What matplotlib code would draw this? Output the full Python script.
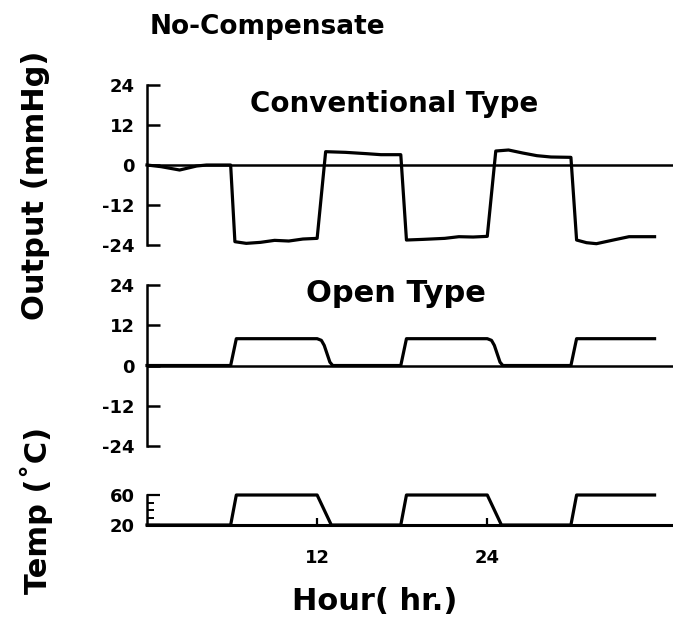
import matplotlib.pyplot as plt

# values (hours, mmHg / degC)
conv_hours = [0, 1, 2.3, 3.5, 4.2, 5.9, 6.2, 7, 8, 9, 10, 11, 12.0,
              12.6, 14, 15.5, 16.5, 17.9, 18.3, 19.5, 21, 22, 23, 24.0,
              24.6, 25.5, 26.5, 27.5, 28.5, 29.9, 30.3, 31, 31.7, 33, 34, 35.8]
conv_output = [0, -0.5, -1.5, -0.3, 0, 0, -23, -23.5, -23.2, -22.6, -22.8, -22.2, -22,
               4, 3.8, 3.4, 3.1, 3.1, -22.5, -22.3, -22, -21.5, -21.6, -21.4,
               4.2, 4.5, 3.6, 2.8, 2.4, 2.3, -22.5, -23.3, -23.6, -22.4, -21.5, -21.5]

open_hours = [0, 5.9, 6.3, 12.0, 12.3, 12.5, 12.7, 12.9, 13.1,
              17.9, 18.3, 24.0, 24.3, 24.5, 24.7, 24.9, 25.1, 29.9, 30.3, 35.8]
open_output = [0, 0, 8, 8, 7.5, 6, 3.5, 1, 0,
               0, 8, 8, 7.5, 6, 3.5, 1, 0, 0, 8, 8]

temp_hours = [0, 5.9, 6.3, 12.0, 13.0, 17.9, 18.3, 24.0, 25.0, 29.9, 30.3, 35.8]
temp_values = [20, 20, 60, 60, 20, 20, 60, 60, 20, 20, 60, 60]

out_ticks = [-24, -12, 0, 12, 24]
temp_ticks = [20, 60]
hour_ticks = [12, 24]

plt.rcParams['font.family'] = 'DejaVu Sans'
plt.rcParams['font.weight'] = 'bold'

W, H = 673, 620
fig = plt.figure(figsize=(W / 100, H / 100), dpi=100)
left = 147 / W

ax1 = fig.add_axes([left, 0.6048, 1 - left, 0.2581])
ax2 = fig.add_axes([left, 0.2806, 1 - left, 0.2597])
ax3 = fig.add_axes([left, 0.1532, 1 - left, 0.0484])

for ax in [ax1, ax2]:
    ax.set_xlim(0, 37.1)
    ax.set_ylim(-24, 24)
    ax.axhline(0, color='black', lw=1.8)
    for s in ['top', 'right', 'bottom']:
        ax.spines[s].set_visible(False)
    ax.spines['left'].set_linewidth(1.8)
    ax.set_yticks(out_ticks)
    ax.set_yticklabels([str(t) for t in out_ticks], fontsize=13, fontweight='bold')
    ax.tick_params(axis='y', direction='in', length=9, width=1.8, pad=9)
    ax.set_xticks([])

ax1.plot(conv_hours, conv_output, color='black', lw=2.3, clip_on=False)
ax2.plot(open_hours, open_output, color='black', lw=2.3, clip_on=False)

# panel captions
fig.text(394 / W, 1 - 112 / H, 'Conventional Type', ha='center', va='baseline',
         fontsize=20, fontweight='bold')
fig.text(396 / W, 1 - 302 / H, 'Open Type', ha='center', va='baseline',
         fontsize=22, fontweight='bold')

# temperature panel
ax3.plot(temp_hours, temp_values, color='black', lw=2.3, clip_on=False)
ax3.set_xlim(0, 37.1)
ax3.set_ylim(20, 60)
for s in ['top', 'right']:
    ax3.spines[s].set_visible(False)
ax3.spines['left'].set_linewidth(1.8)
ax3.spines['bottom'].set_linewidth(2.2)
ax3.set_yticks(temp_ticks)
ax3.set_yticklabels([str(t) for t in temp_ticks], fontsize=13, fontweight='bold')
ax3.set_yticks([30, 40, 50], minor=True)
ax3.tick_params(axis='y', which='major', direction='in', length=9, width=1.6, pad=9)
ax3.tick_params(axis='y', which='minor', direction='in', length=5, width=1.4)
ax3.set_xticks(hour_ticks)
ax3.set_xticklabels([str(t) for t in hour_ticks], fontsize=13, fontweight='bold')
ax3.tick_params(axis='x', direction='in', length=5, width=1.6, pad=17)

fig.text(150 / W, 1 - 34 / H, 'No-Compensate', ha='left', va='baseline',
         fontsize=19, fontweight='bold')
fig.text(36 / W, 1 - 185 / H, 'Output (mmHg)', rotation=90, ha='center',
         va='center', fontsize=22, fontweight='bold')
fig.text(36 / W, 1 - 510 / H, 'Temp (˚C)', rotation=90, ha='center',
         va='center', fontsize=22, fontweight='bold')
fig.text(375 / W, 1 - 602 / H, 'Hour( hr.)', ha='center', va='center',
         fontsize=22, fontweight='bold')

fig.savefig('out.png', dpi=100)
